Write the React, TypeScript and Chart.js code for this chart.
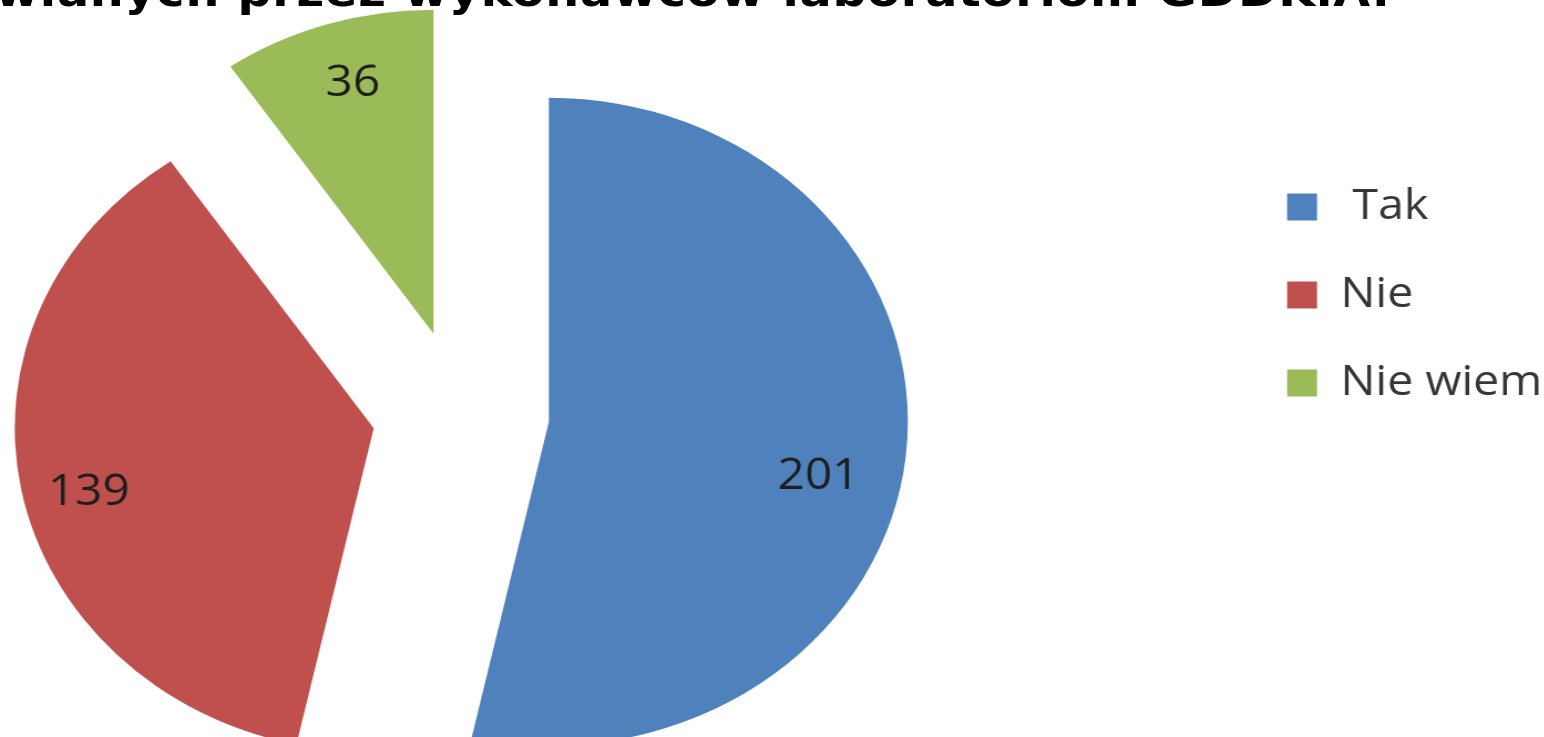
import { useEffect, useRef } from 'react';
import { Chart, registerables } from 'chart.js';

Chart.register(...registerables);

// ---- data ----
const categories = [' Tak', 'Nie', 'Nie wiem'];
const values = [201, 139, 36];
const titleText = 'wianych przez wykonawców laboratoriom GDDKiA.';

// ---- style ----
const colors = ['#4F81BD', '#C0504D', '#9BBB59'];
const SX = 1.108; // horizontal stretch of the original picture
const EXPLODE = [80, 80, 83];
const RADIUS = 324;
const LABEL_FRACTION = [0.77, 0.818, 0.804];
const LABEL_ANGLE_SHIFT_DEG = [6.5, -3, 1];
const FONT = '"Open Sans", "Noto Sans", sans-serif';
const LEGEND_FONT_SIZE = 42;
const LEGEND_BOX = 27;
const LEGEND_PAD = 46;
const AREA_W = 1399;
const CANVAS_LEFT = -284.5;

const explodePlugin = {
  id: 'explodeSlices',
  beforeDatasetDraw(chart: any, args: any) {
    const ctx = chart.ctx;
    args.meta.data.forEach((arc: any, i: number) => {
      const mid = (arc.startAngle + arc.endAngle) / 2;
      const d = EXPLODE[i] || 0;
      ctx.save();
      ctx.translate(Math.cos(mid) * d, Math.sin(mid) * d);
      arc.draw(ctx);
      ctx.restore();
    });
    return false;
  },
};

const labelPlugin = {
  id: 'sliceLabels',
  afterDatasetsDraw(chart: any) {
    const ctx = chart.ctx;
    const meta = chart.getDatasetMeta(0);
    ctx.save();
    ctx.font = `43px ${FONT}`;
    ctx.fillStyle = '#1e1e1e';
    ctx.textAlign = 'center';
    ctx.textBaseline = 'middle';
    meta.data.forEach((arc: any, i: number) => {
      const mid = (arc.startAngle + arc.endAngle) / 2;
      const d = EXPLODE[i] || 0;
      const ox = arc.x + Math.cos(mid) * d;
      const oy = arc.y + Math.sin(mid) * d;
      const a = mid + ((LABEL_ANGLE_SHIFT_DEG[i] || 0) * Math.PI) / 180;
      const r = arc.outerRadius * LABEL_FRACTION[i];
      ctx.fillText(String(values[i]), ox + Math.cos(a) * r, oy + Math.sin(a) * r);
    });
    ctx.restore();
  },
};

function legendWidth(): number {
  const c = document.createElement('canvas').getContext('2d');
  let w = 200;
  if (c) {
    c.font = `${LEGEND_FONT_SIZE}px ${FONT}`;
    w = Math.max(...categories.map((t) => c.measureText(t).width));
  }
  return Math.ceil(w + LEGEND_BOX + LEGEND_FONT_SIZE / 2 + LEGEND_PAD + 10);
}

export default function App() {
  const canvasRef = useRef<HTMLCanvasElement | null>(null);
  const legW = legendWidth();
  const canvasW = AREA_W + legW + 4;

  useEffect(() => {
    if (!canvasRef.current) return;
    const chart = new Chart(canvasRef.current, {
      type: 'pie',
      data: {
        labels: categories,
        datasets: [
          {
            data: values,
            backgroundColor: colors,
            borderWidth: 0,
            radius: RADIUS,
          } as any,
        ],
      },
      options: {
        animation: false,
        responsive: true,
        maintainAspectRatio: false,
        layout: { padding: { left: 0, top: 140, right: 4, bottom: 51 } },
        plugins: {
          title: { display: false },
          tooltip: { enabled: false },
          legend: {
            display: true,
            position: 'right',
            align: 'start',
            labels: {
              boxWidth: LEGEND_BOX,
              boxHeight: LEGEND_BOX,
              padding: LEGEND_PAD,
              color: '#363636',
              font: { family: FONT, size: LEGEND_FONT_SIZE },
            },
          },
        },
      } as any,
      plugins: [explodePlugin, labelPlugin],
    });
    return () => chart.destroy();
  }, []);

  const innerW = 1544 / SX;

  return (
    <div
      style={{
        position: 'fixed',
        left: 0,
        top: 0,
        width: 1544,
        height: 737,
        overflow: 'hidden',
        background: '#ffffff',
      }}
    >
      <div
        style={{
          position: 'absolute',
          left: 0,
          top: 0,
          width: innerW,
          height: 737,
          transform: `scaleX(${SX})`,
          transformOrigin: '0 0',
        }}
      >
        <div
          style={{
            position: 'absolute',
            right: innerW - 1255,
            top: -30.4,
            whiteSpace: 'nowrap',
            fontFamily: '"DejaVu Sans", sans-serif',
            fontWeight: 700,
            fontSize: 43,
            lineHeight: '43px',
            letterSpacing: '0.7px',
            color: '#000000',
          }}
        >
          {titleText}
        </div>
        <div style={{ position: 'absolute', left: CANVAS_LEFT, top: 0, width: canvasW, height: 737 }}>
          <canvas ref={canvasRef} />
        </div>
      </div>
    </div>
  );
}
